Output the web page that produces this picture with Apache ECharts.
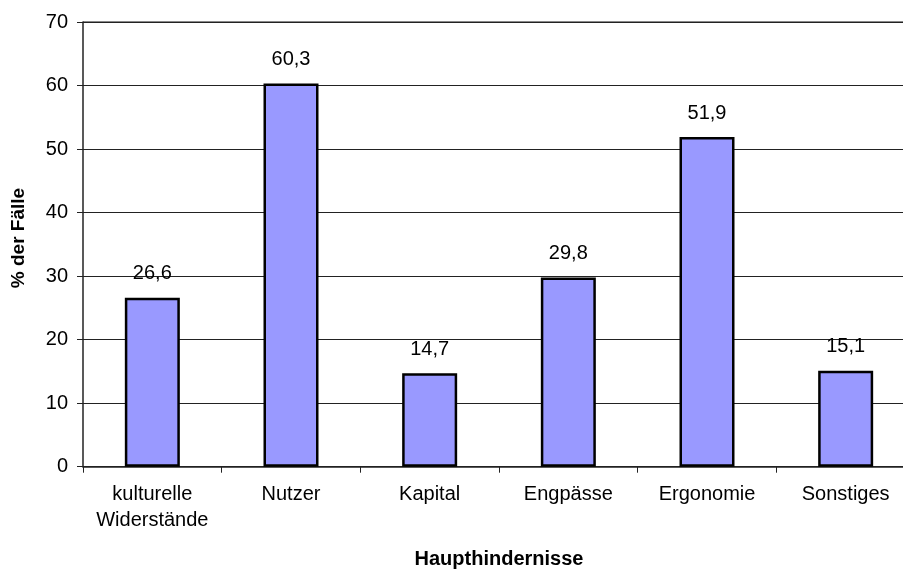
<!DOCTYPE html>
<html>
<head>
<meta charset="utf-8">
<script src="https://cdn.jsdelivr.net/npm/echarts@6/dist/echarts.min.js"></script>
<style>
  html, body { margin: 0; padding: 0; background: #fff; overflow: hidden; }
  /* the plot runs a little past the right edge of the window */
  #chart { width: 915px; height: 569px; }
</style>
</head>
<body>
<div id="chart"></div>
<script>
// Haupthindernisse — Anteil der Fälle in Prozent
const categories = ['kulturelle\nWiderstände', 'Nutzer', 'Kapital', 'Engpässe', 'Ergonomie', 'Sonstiges'];
const values = [26.6, 60.3, 14.7, 29.8, 51.9, 15.1];
const yTicks = [0, 10, 20, 30, 40, 50, 60, 70];

const FONT = '"Liberation Sans", Arial, sans-serif';
const chart = echarts.init(document.getElementById('chart'), null, { renderer: 'canvas' });

const gridLeft = 83, gridTop = 22, gridHeight = 444.7;

chart.setOption({
  animation: false,
  backgroundColor: '#ffffff',
  grid: { left: gridLeft, top: gridTop, right: 0, height: gridHeight, containLabel: false },
  xAxis: {
    type: 'category',
    data: categories,
    axisLine: { show: true, lineStyle: { color: '#222', width: 1.5 } },
    axisTick: { show: true, interval: 0, length: 6, lineStyle: { color: '#222', width: 1 } },
    axisLabel: { interval: 0, hideOverlap: false, color: '#000', fontFamily: FONT, fontSize: 20, margin: 15, lineHeight: 26 },
    splitLine: { show: false }
  },
  yAxis: {
    type: 'value',
    min: yTicks[0],
    max: yTicks[yTicks.length - 1],
    interval: 10,
    axisLine: { show: true, lineStyle: { color: '#222', width: 1.5 } },
    axisTick: { show: true, length: 6, lineStyle: { color: '#222', width: 1 } },
    axisLabel: { color: '#000', fontFamily: FONT, fontSize: 20, margin: 15 },
    splitLine: { show: true, lineStyle: { color: '#222', width: 1 } }
  },
  series: [{
    type: 'bar',
    data: values,
    barWidth: 55,
    itemStyle: { color: '#9999ff', borderColor: '#000', borderWidth: 2.5 },
    label: {
      show: true,
      position: 'top',
      distance: 14,
      color: '#000',
      fontFamily: FONT,
      fontSize: 20,
      formatter: p => String(p.value).replace('.', ',')
    }
  }],
  graphic: [
    {
      type: 'text',
      x: 499,
      y: 559,
      style: { text: 'Haupthindernisse', font: 'bold 20px ' + FONT, fill: '#000', align: 'center', verticalAlign: 'middle' }
    },
    {
      type: 'text',
      x: 19,
      y: 238,
      rotation: Math.PI / 2,
      style: { text: '% der Fälle', font: 'bold 19px ' + FONT, fill: '#000', align: 'center', verticalAlign: 'middle' }
    },
    {
      // plot-area frame along the top
      type: 'line',
      shape: { x1: gridLeft, y1: gridTop, x2: 915, y2: gridTop },
      style: { stroke: '#888', lineWidth: 2 }
    }
  ]
});
</script>
</body>
</html>
